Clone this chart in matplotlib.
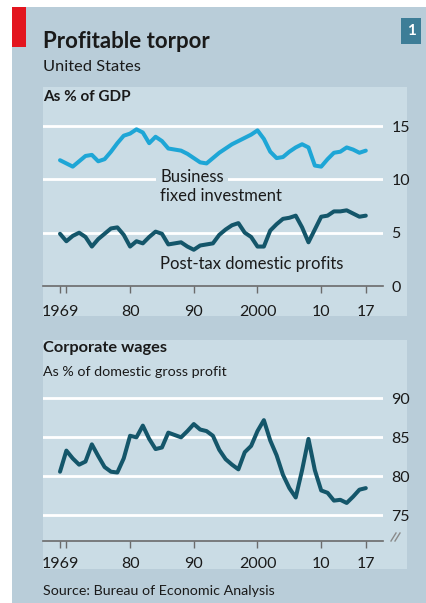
import matplotlib
matplotlib.use("Agg")
import matplotlib.pyplot as plt
from matplotlib.patches import Rectangle
from matplotlib.lines import Line2D

plt.rcParams['font.family'] = ['Lato', 'DejaVu Sans']

years = list(range(1969, 2018))

# business fixed investment, % of GDP
investment = [11.8, 11.5, 11.2, 11.7, 12.2, 12.3, 11.7, 11.9, 12.6, 13.4,
              14.1, 14.3, 14.7, 14.4, 13.4, 14.0, 13.6, 12.9, 12.8, 12.7,
              12.4, 12.0, 11.6, 11.5, 12.0, 12.5, 12.9, 13.3, 13.6, 13.9,
              14.2, 14.6, 13.8, 12.6, 12.0, 12.1, 12.6, 13.0, 13.3, 13.0,
              11.3, 11.2, 11.9, 12.5, 12.6, 13.0, 12.8, 12.5, 12.7]

# post-tax domestic profits, % of GDP
profits = [4.9, 4.2, 4.7, 5.0, 4.6, 3.7, 4.4, 4.9, 5.4, 5.5,
           4.8, 3.7, 4.2, 4.0, 4.6, 5.1, 4.9, 3.9, 4.0, 4.1,
           3.7, 3.4, 3.8, 3.9, 4.0, 4.8, 5.3, 5.7, 5.9, 5.0,
           4.6, 3.7, 3.7, 5.2, 5.8, 6.3, 6.4, 6.6, 5.5, 4.1,
           5.3, 6.5, 6.6, 7.0, 7.0, 7.1, 6.8, 6.5, 6.6]

# corporate wages, % of domestic gross profit
wages = [80.6, 83.3, 82.3, 81.5, 81.9, 84.1, 82.6, 81.2, 80.6, 80.5,
         82.3, 85.2, 85.0, 86.5, 84.8, 83.5, 83.7, 85.6, 85.3, 85.0,
         85.8, 86.7, 86.0, 85.8, 85.2, 83.4, 82.2, 81.5, 80.9, 83.1,
         83.9, 85.8, 87.2, 84.6, 82.7, 80.2, 78.5, 77.3, 80.8, 84.8,
         80.8, 78.2, 77.9, 76.9, 77.0, 76.6, 77.4, 78.3, 78.5]

xtick_pos = [1969, 1970, 1980, 1990, 2000, 2010, 2017]
xtick_labels = ['1969', '', '80', '90', '2000', '10', '17']
top_ticks = [0, 5, 10, 15]
bottom_ticks = [75, 80, 85, 90]

W, H = 426, 603
OUTER = '#b9cdd9'
INNER = '#cadce5'
LIGHT = '#1ea6d6'
DARK = '#14566a'
AXIS = '#6b6b6b'
TEXT = '#1a1a1a'

fig = plt.figure(figsize=(W / 100, H / 100), dpi=100)
fig.patch.set_facecolor('white')


def rect(l, t, r, b, color):
    fig.patches.append(Rectangle((l / W, 1 - b / H), (r - l) / W, (b - t) / H,
                                 transform=fig.transFigure, facecolor=color,
                                 edgecolor='none', zorder=-5))


def ftext(x, y, s, **kw):
    fig.text(x / W, 1 - y / H, s, **kw)


def axes_px(l, t, r, b):
    return fig.add_axes([l / W, 1 - b / H, (r - l) / W, (b - t) / H])


# background panels
rect(12, 7, W, H, OUTER)
rect(43, 87, 407, 316, INNER)
rect(43, 340, 407, 569, INNER)
rect(12, 7, 26, 47, '#e3151f')
rect(401, 18, 421, 44, '#3d7d97')
ftext(411, 31, '1', color='white', fontsize=11, fontweight='bold',
      ha='center', va='center')

ftext(43, 41, 'Profitable torpor', fontsize=16, fontweight='bold',
      color=TEXT, va='center')
ftext(43, 67, 'United States', fontsize=11.8, color=TEXT, va='center')
ftext(43, 97, 'As % of GDP', fontsize=11, fontweight='bold', color=TEXT,
      va='center')
ftext(43, 348, 'Corporate wages', fontsize=11.8, fontweight='bold',
      color=TEXT, va='center')
ftext(43, 372, 'As % of domestic gross profit', fontsize=10.3, color=TEXT,
      va='center')
ftext(43, 591, 'Source: Bureau of Economic Analysis', fontsize=10.3,
      color=TEXT, va='center')

xlim = (1966.33, 2019.7)


def style(ax, ticks, ylim, pad):
    ax.set_facecolor('none')
    ax.set_xlim(*xlim)
    ax.set_ylim(*ylim)
    for side in ['top', 'left', 'right']:
        ax.spines[side].set_visible(False)
    ax.spines['bottom'].set_color(AXIS)
    ax.spines['bottom'].set_linewidth(1.2)
    ax.set_xticks(xtick_pos)
    ax.set_xticklabels(xtick_labels)
    ax.tick_params(axis='x', direction='out', length=5, width=1,
                   color=AXIS, labelsize=11.5, labelcolor=TEXT, pad=pad)
    ax.yaxis.tick_right()
    ax.set_yticks(ticks)
    ax.tick_params(axis='y', length=0, labelsize=11.5, labelcolor=TEXT, pad=6)
    for t in ticks:
        if t > ylim[0] + 0.5:
            ax.axhline(t, color='white', lw=2, zorder=1)


# top panel
ax1 = axes_px(43, 108, 383, 286)
style(ax1, top_ticks, (0, 16.7), 8.5)
ax1.plot(years, investment, color=LIGHT, lw=2.9, zorder=4,
         solid_capstyle='round', solid_joinstyle='round', clip_on=False)
ax1.plot(years, profits, color=DARK, lw=2.9, zorder=4,
         solid_capstyle='round', solid_joinstyle='round', clip_on=False)
ax1.text(1984.7, 10.2, 'Business', fontsize=12, color=TEXT,
         va='center', ha='left', zorder=2,
         bbox=dict(facecolor=INNER, edgecolor='none', pad=3))
ax1.text(1984.7, 8.4, 'fixed investment', fontsize=12, color=TEXT,
         va='center', ha='left', zorder=2)
ax1.text(1984.7, 2.05, 'Post-tax domestic profits', fontsize=12,
         color=TEXT, va='center', ha='left', zorder=2)

# bottom panel
ax2 = axes_px(43, 385, 383, 541)
style(ax2, bottom_ticks, (71.73, 91.7), 6.5)
ax2.plot(years, wages, color=DARK, lw=2.9, zorder=4,
         solid_capstyle='round', solid_joinstyle='round', clip_on=False)

# axis break mark
for dx in (-2, 2):
    fig.lines.append(Line2D([(393 + dx) / W, (398 + dx) / W],
                            [1 - 541 / H, 1 - 533 / H],
                            transform=fig.transFigure, color='#8a8a8a', lw=1))

fig.savefig('out.png', dpi=100, facecolor=fig.get_facecolor())
